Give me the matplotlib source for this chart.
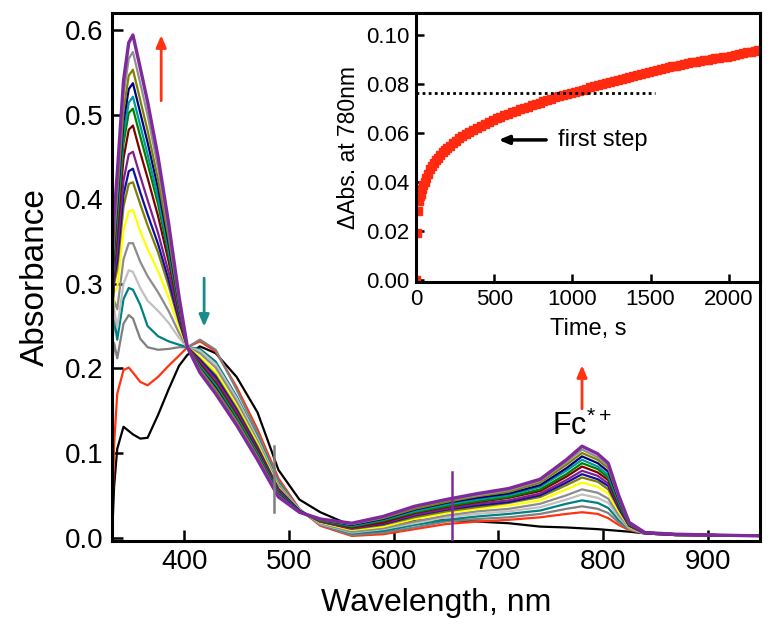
import matplotlib
matplotlib.use("Agg")
import matplotlib.pyplot as plt

plt.rcParams['font.family'] = ['Liberation Sans', 'DejaVu Sans']
plt.rcParams['mathtext.fontset'] = 'custom'
plt.rcParams['mathtext.rm'] = 'Liberation Sans'
plt.rcParams['mathtext.it'] = 'Liberation Sans'

# ---------------- data: main spectra ----------------
wavelength = [331, 333, 336, 342, 347, 351, 358, 365, 375, 385, 395, 403, 415, 430, 450,
              470, 490, 510, 530, 560, 590, 620, 650, 680, 710, 740, 765, 780, 795, 805,
              815, 825, 840, 870, 950]

spec_00 = [0.000, 0.060, 0.105, 0.131, 0.126, 0.122, 0.117, 0.118, 0.145, 0.175, 0.203, 0.216, 0.226, 0.218, 0.190,
           0.148, 0.080, 0.045, 0.030, 0.014, 0.014, 0.020, 0.021, 0.019, 0.017, 0.013, 0.012, 0.011, 0.010, 0.009,
           0.008, 0.007, 0.005, 0.004, 0.002]
spec_01 = [0.005, 0.110, 0.170, 0.198, 0.201, 0.195, 0.184, 0.180, 0.190, 0.203, 0.215, 0.225, 0.232, 0.220, 0.178,
           0.128, 0.070, 0.034, 0.014, 0.002, 0.004, 0.010, 0.016, 0.019, 0.021, 0.024, 0.028, 0.030, 0.028, 0.023,
           0.015, 0.009, 0.005, 0.003, 0.002]
spec_02 = [0.200, 0.230, 0.212, 0.253, 0.263, 0.259, 0.235, 0.225, 0.222, 0.223, 0.225, 0.225, 0.234, 0.222, 0.175,
           0.124, 0.067, 0.033, 0.015, 0.003, 0.006, 0.012, 0.019, 0.022, 0.024, 0.028, 0.034, 0.037, 0.034, 0.029,
           0.018, 0.010, 0.005, 0.003, 0.002]
spec_03 = [0.220, 0.260, 0.234, 0.282, 0.295, 0.293, 0.275, 0.250, 0.238, 0.232, 0.228, 0.225, 0.223, 0.208, 0.167,
           0.119, 0.065, 0.033, 0.016, 0.005, 0.008, 0.015, 0.021, 0.025, 0.028, 0.032, 0.040, 0.044, 0.041, 0.035,
           0.021, 0.011, 0.005, 0.003, 0.002]
spec_04 = [0.230, 0.270, 0.248, 0.300, 0.316, 0.314, 0.295, 0.280, 0.268, 0.254, 0.236, 0.225, 0.221, 0.205, 0.165,
           0.117, 0.063, 0.033, 0.016, 0.006, 0.010, 0.017, 0.024, 0.028, 0.031, 0.036, 0.045, 0.051, 0.047, 0.041,
           0.024, 0.011, 0.005, 0.003, 0.002]
spec_05 = [0.240, 0.280, 0.270, 0.329, 0.348, 0.348, 0.326, 0.309, 0.290, 0.268, 0.242, 0.225, 0.218, 0.201, 0.161,
           0.114, 0.062, 0.032, 0.017, 0.007, 0.011, 0.019, 0.026, 0.031, 0.034, 0.040, 0.050, 0.057, 0.053, 0.046,
           0.027, 0.012, 0.005, 0.003, 0.002]
spec_06 = [0.250, 0.290, 0.295, 0.363, 0.386, 0.387, 0.362, 0.341, 0.315, 0.284, 0.249, 0.225, 0.214, 0.196, 0.156,
           0.111, 0.059, 0.032, 0.018, 0.009, 0.013, 0.022, 0.029, 0.034, 0.038, 0.044, 0.057, 0.065, 0.060, 0.052,
           0.031, 0.013, 0.005, 0.003, 0.002]
spec_07 = [0.260, 0.300, 0.317, 0.391, 0.418, 0.420, 0.394, 0.369, 0.337, 0.298, 0.255, 0.225, 0.211, 0.192, 0.153,
           0.108, 0.058, 0.032, 0.019, 0.010, 0.015, 0.024, 0.031, 0.036, 0.041, 0.048, 0.062, 0.071, 0.066, 0.057,
           0.034, 0.014, 0.005, 0.003, 0.002]
spec_08 = [0.265, 0.305, 0.327, 0.405, 0.433, 0.436, 0.408, 0.382, 0.347, 0.305, 0.257, 0.225, 0.210, 0.190, 0.151,
           0.106, 0.057, 0.032, 0.019, 0.011, 0.016, 0.026, 0.033, 0.038, 0.042, 0.050, 0.065, 0.075, 0.069, 0.061,
           0.035, 0.014, 0.005, 0.003, 0.002]
spec_09 = [0.270, 0.310, 0.340, 0.422, 0.453, 0.456, 0.427, 0.399, 0.360, 0.314, 0.261, 0.225, 0.208, 0.187, 0.149,
           0.104, 0.056, 0.031, 0.019, 0.011, 0.017, 0.027, 0.034, 0.040, 0.044, 0.052, 0.068, 0.079, 0.073, 0.064,
           0.037, 0.015, 0.005, 0.003, 0.002]
spec_10 = [0.280, 0.320, 0.360, 0.448, 0.482, 0.487, 0.455, 0.425, 0.380, 0.327, 0.266, 0.225, 0.205, 0.183, 0.145,
           0.102, 0.054, 0.031, 0.020, 0.012, 0.018, 0.029, 0.036, 0.042, 0.047, 0.055, 0.072, 0.084, 0.077, 0.068,
           0.039, 0.015, 0.006, 0.004, 0.002]
spec_11 = [0.290, 0.330, 0.374, 0.466, 0.502, 0.507, 0.474, 0.442, 0.394, 0.335, 0.270, 0.225, 0.203, 0.181, 0.143,
           0.100, 0.053, 0.031, 0.020, 0.013, 0.020, 0.030, 0.037, 0.043, 0.048, 0.057, 0.075, 0.088, 0.081, 0.071,
           0.041, 0.016, 0.006, 0.004, 0.002]
spec_12 = [0.295, 0.335, 0.382, 0.477, 0.514, 0.521, 0.487, 0.453, 0.402, 0.341, 0.272, 0.225, 0.202, 0.179, 0.141,
           0.099, 0.052, 0.031, 0.021, 0.014, 0.021, 0.031, 0.039, 0.045, 0.050, 0.060, 0.079, 0.092, 0.084, 0.074,
           0.043, 0.016, 0.006, 0.004, 0.002]
spec_13 = [0.300, 0.340, 0.393, 0.491, 0.530, 0.537, 0.502, 0.467, 0.413, 0.348, 0.275, 0.225, 0.200, 0.177, 0.139,
           0.097, 0.051, 0.031, 0.021, 0.015, 0.022, 0.033, 0.041, 0.047, 0.052, 0.062, 0.082, 0.096, 0.088, 0.078,
           0.045, 0.017, 0.006, 0.004, 0.002]
spec_14 = [0.310, 0.350, 0.403, 0.505, 0.546, 0.553, 0.517, 0.481, 0.423, 0.355, 0.278, 0.225, 0.199, 0.175, 0.138,
           0.096, 0.050, 0.030, 0.021, 0.016, 0.023, 0.034, 0.042, 0.049, 0.054, 0.065, 0.086, 0.100, 0.092, 0.082,
           0.047, 0.017, 0.006, 0.004, 0.002]
spec_15 = [0.320, 0.365, 0.417, 0.523, 0.566, 0.574, 0.537, 0.499, 0.437, 0.364, 0.282, 0.225, 0.197, 0.172, 0.135,
           0.094, 0.049, 0.030, 0.022, 0.016, 0.024, 0.036, 0.044, 0.050, 0.056, 0.067, 0.089, 0.104, 0.095, 0.085,
           0.048, 0.018, 0.006, 0.004, 0.002]
spec_16 = [0.330, 0.380, 0.430, 0.540, 0.585, 0.594, 0.555, 0.515, 0.450, 0.372, 0.285, 0.225, 0.195, 0.170, 0.133,
           0.092, 0.048, 0.030, 0.022, 0.017, 0.025, 0.037, 0.045, 0.052, 0.058, 0.069, 0.092, 0.108, 0.099, 0.088,
           0.050, 0.018, 0.006, 0.004, 0.002]

spectra = [spec_00, spec_01, spec_02, spec_03, spec_04, spec_05, spec_06, spec_07, spec_08,
           spec_09, spec_10, spec_11, spec_12, spec_13, spec_14, spec_15, spec_16]
spec_colors = ['#000000', '#ff3311', '#7f7f7f', '#008080', '#c0c0c0', '#8c8c8c', '#ffff00',
               '#808000', '#1010a0', '#802090', '#800000', '#008000', '#009a9a', '#000080',
               '#808000', '#909090', '#7f2a9c']

# instrument spikes (lamp change artefacts)
spike_wl = [486, 656]
spike_low = [0.030, -0.004]
spike_high = [0.108, 0.077]
spike_colors = ['#7f7f7f', '#7f2a9c']

# ---------------- data: inset kinetics ----------------
time_s = [0, 6, 12, 18, 24, 30, 38, 46, 55, 65, 75, 88, 100, 113, 126, 140, 155, 170, 185, 200,
          218, 236, 255, 275, 295, 318, 342, 366, 390, 415, 440, 465, 490, 515, 540, 565, 590,
          615, 640, 665, 690, 715, 740, 765, 790, 815, 840, 865, 890, 915, 940, 965, 990, 1015,
          1040, 1065, 1090, 1115, 1140, 1165, 1190, 1215, 1240, 1265, 1290, 1315, 1340, 1365,
          1390, 1415, 1440, 1465, 1490, 1515, 1540, 1565, 1590, 1615, 1640, 1665, 1690, 1715,
          1740, 1765, 1790, 1815, 1840, 1865, 1890, 1915, 1940, 1965, 1990, 2015, 2040, 2065,
          2090, 2115, 2140, 2165, 2190]
dabs_780 = [0.000, 0.019, 0.028, 0.032, 0.034, 0.035, 0.037, 0.0385, 0.040, 0.0415, 0.043, 0.0452,
            0.0466, 0.0477, 0.0488, 0.0499, 0.0511, 0.0521, 0.0530, 0.0538, 0.0547, 0.0557, 0.0567,
            0.0577, 0.0588, 0.0597, 0.0605, 0.0612, 0.0620, 0.0627, 0.0635, 0.0643, 0.0651, 0.0659,
            0.0666, 0.0672, 0.0678, 0.0684, 0.0690, 0.0696, 0.0701, 0.0707, 0.0713, 0.0718, 0.0724,
            0.0729, 0.0734, 0.0739, 0.0745, 0.0750, 0.0755, 0.0759, 0.0764, 0.0768, 0.0772, 0.0777,
            0.0781, 0.0786, 0.0790, 0.0794, 0.0798, 0.0803, 0.0807, 0.0812, 0.0816, 0.0821, 0.0825,
            0.0830, 0.0834, 0.0838, 0.0842, 0.0846, 0.0850, 0.0854, 0.0858, 0.0862, 0.0866, 0.0869,
            0.0872, 0.0875, 0.0879, 0.0882, 0.0885, 0.0888, 0.0891, 0.0894, 0.0896, 0.0899, 0.0902,
            0.0904, 0.0907, 0.0910, 0.0912, 0.0915, 0.0918, 0.0922, 0.0925, 0.0929, 0.0932, 0.0936,
            0.0939]
first_step_level = 0.0762
first_step_end = 1530

main_xticks = [400, 500, 600, 700, 800, 900]
main_yticks = [0.0, 0.1, 0.2, 0.3, 0.4, 0.5, 0.6]
inset_xticks = [0, 500, 1000, 1500, 2000]
inset_yticks = [0.00, 0.02, 0.04, 0.06, 0.08, 0.10]

# ---------------- figure ----------------
fig = plt.figure(figsize=(7.74, 6.41), dpi=100)
ax = fig.add_axes([112/774, 100/641, 648/774, 528/641])

for i, (s, c) in enumerate(zip(spectra, spec_colors)):
    lw = 2.4 if i == len(spectra) - 1 else 1.6
    ax.plot(wavelength, s, color=c, lw=lw, zorder=2 + i * 0.01)
for w, lo, hi, c in zip(spike_wl, spike_low, spike_high, spike_colors):
    ax.plot([w, w], [lo, hi], color=c, lw=1.8, zorder=3)

ax.set_xlim(331, 950)
ax.set_ylim(-0.004, 0.62)
ax.set_xticks(main_xticks)
ax.set_yticks(main_yticks)
ax.set_yticklabels([f"{v:.1f}" for v in main_yticks])
ax.tick_params(direction='in', length=8, width=1.8, labelsize=20, top=False, right=False, pad=6)
for sp in ax.spines.values():
    sp.set_linewidth(2.2)
ax.set_xlabel("Wavelength, nm", fontsize=23, labelpad=9)
ax.set_ylabel("Absorbance", fontsize=24, labelpad=10)

# arrows
ax.annotate('', xy=(378, 0.597), xytext=(378, 0.513),
            arrowprops=dict(arrowstyle='-|>,head_length=0.7,head_width=0.3', lw=2, color='#ff3311'))
ax.annotate('', xy=(419, 0.246), xytext=(419, 0.310),
            arrowprops=dict(arrowstyle='-|>,head_length=0.7,head_width=0.3', lw=2, color='#1a8a8a'))
ax.annotate('', xy=(780, 0.207), xytext=(780, 0.149),
            arrowprops=dict(arrowstyle='-|>,head_length=0.7,head_width=0.3', lw=2, color='#ff3311'))
ax.text(780, 0.131, "Fc$^{*+}$", fontsize=22, ha='center', va='center')

# inset
axi = fig.add_axes([416/774, (641-282)/641, 344/774, 269/641])
axi.set_facecolor('white')
axi.plot(time_s, dabs_780, ls='none', marker='s', ms=5.5, color='#ff2a10', mec='#ff2a10')
axi.plot([0, first_step_end], [first_step_level, first_step_level], ls=(0, (1, 1.2)), color='black', lw=2)
axi.annotate('', xy=(510, 0.0571), xytext=(850, 0.0571),
             arrowprops=dict(arrowstyle='-|>,head_length=0.6,head_width=0.25', lw=2.5, color='black'))
axi.text(905, 0.0571, "first step", fontsize=17, ha='left', va='center')
axi.set_xlim(0, 2200)
axi.set_ylim(-0.001, 0.109)
axi.set_xticks(inset_xticks)
axi.set_yticks(inset_yticks)
axi.set_yticklabels([f"{v:.2f}" for v in inset_yticks])
axi.tick_params(direction='in', length=6, width=1.8, labelsize=16, top=False, right=False, pad=5)
for sp in axi.spines.values():
    sp.set_linewidth(2.2)
axi.set_xlabel("Time, s", fontsize=17, labelpad=6)
axi.set_ylabel("\u0394Abs. at 780nm", fontsize=16.5, labelpad=4)

fig.savefig("out.png", dpi=100, facecolor='white')
